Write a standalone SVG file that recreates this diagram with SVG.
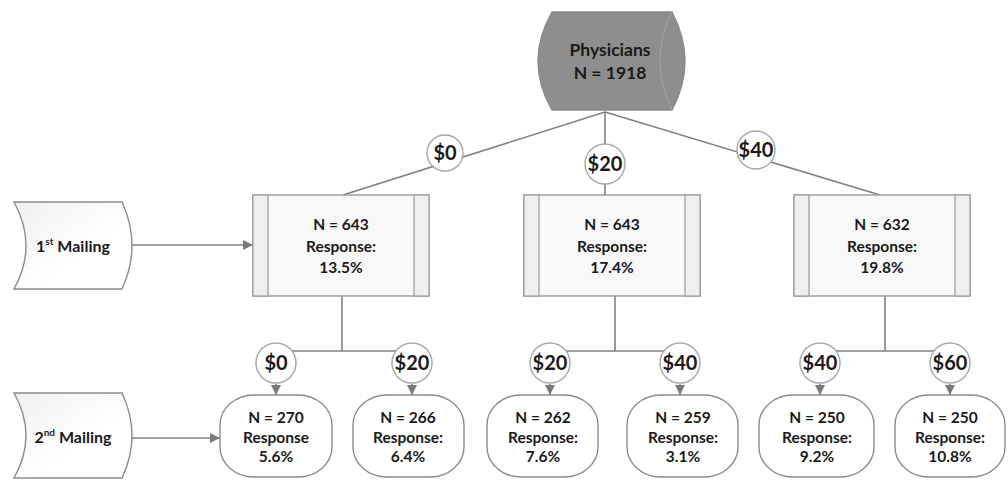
<svg xmlns="http://www.w3.org/2000/svg" width="1008" height="480" viewBox="0 0 1008 480">
<style>
text{font-family:Lato,"Liberation Sans",sans-serif;font-weight:bold;fill:#1a1a1a;text-anchor:middle}
.t{font-size:15.5px}
.c{font-size:20px}
.m{font-size:16px}
.p{font-size:17.5px}
.edge{stroke:#808080;stroke-width:1.6;fill:none}
.box{fill:#f8f8f8;stroke:#9a9a9a;stroke-width:1.4}
.band{fill:#efefef;stroke:#9a9a9a;stroke-width:1.2}
.circ{fill:#fff;stroke:#a8a8a8;stroke-width:1.4}
.node{fill:#fff;stroke:#8c8c8c;stroke-width:1.4}
.mail{fill:url(#g);stroke:#8c8c8c;stroke-width:1.4}
</style>
<defs>
<linearGradient id="g" x1="0" y1="0" x2="1" y2="1">
<stop offset="0" stop-color="#f0f0f0"/>
<stop offset="0.6" stop-color="#ffffff"/>
</linearGradient>
<marker id="ah" viewBox="0 0 10 10" refX="10" refY="5" markerWidth="10" markerHeight="10" markerUnits="userSpaceOnUse" orient="auto">
<path d="M0,0 L10,5 L0,10 Z" fill="#7a7a7a"/>
</marker>
</defs>
<rect width="1008" height="480" fill="#fff"/>

<g id="connectors">
<line class="edge" x1="605" y1="112" x2="343" y2="195"/>
<line class="edge" x1="605" y1="112" x2="605" y2="195"/>
<line class="edge" x1="605" y1="112" x2="880" y2="195"/>
<line class="edge" x1="132" y1="245" x2="253" y2="245" marker-end="url(#ah)"/>
<line class="edge" x1="132" y1="438" x2="220" y2="438" marker-end="url(#ah)"/>
<polyline class="edge" points="342,296 342,351"/>
<line class="edge" x1="276" y1="351" x2="412" y2="351"/>
<polyline class="edge" points="615,296 615,351"/>
<line class="edge" x1="550" y1="351" x2="680" y2="351"/>
<polyline class="edge" points="885,296 885,351"/>
<line class="edge" x1="820" y1="351" x2="950" y2="351"/>
<line class="edge" x1="276" y1="384" x2="276" y2="395" marker-end="url(#ah)"/>
<line class="edge" x1="412" y1="384" x2="412" y2="395" marker-end="url(#ah)"/>
<line class="edge" x1="550" y1="384" x2="550" y2="395" marker-end="url(#ah)"/>
<line class="edge" x1="680" y1="384" x2="680" y2="395" marker-end="url(#ah)"/>
<line class="edge" x1="820" y1="384" x2="820" y2="395" marker-end="url(#ah)"/>
<line class="edge" x1="950" y1="384" x2="950" y2="395" marker-end="url(#ah)"/>
</g>

<g id="physicians">
<path d="M552,12 L672,12 Q698,61 672,110 L552,110 Q524,61 552,12 Z" fill="#8e8e8e" stroke="#8a8a8a" stroke-width="1.4"/>
<path d="M672,12 Q648,61 672,110" fill="none" stroke="#a4a4a4" stroke-width="1"/>
<text class="p" x="610" y="56">Physicians</text>
<text class="p" x="610" y="79">N = 1918</text>
</g>

<g id="c1-0"><circle class="circ" cx="445" cy="153" r="18"/><text class="c" x="445" y="160">$0</text></g>
<g id="c1-20"><circle class="circ" cx="605" cy="164" r="20"/><text class="c" x="605" y="171">$20</text></g>
<g id="c1-40"><circle class="circ" cx="756" cy="150" r="19"/><text class="c" x="756" y="157">$40</text></g>

<g id="mailing1">
<path class="mail" d="M14,202 L122,202 Q142,245.5 122,289 L14,289 Q38,245.5 14,202 Z"/>
<text class="m" x="73" y="252">1<tspan font-size="10" dy="-7">st</tspan><tspan dy="7"> Mailing</tspan></text>
</g>
<g id="mailing2">
<path class="mail" d="M14,393 L122,393 Q142,435.5 122,478 L14,478 Q38,435.5 14,393 Z"/>
<text class="m" x="73" y="443">2<tspan font-size="10" dy="-7">nd</tspan><tspan dy="7"> Mailing</tspan></text>
</g>

<g id="box1">
<rect class="box" x="253" y="195" width="176" height="101"/>
<rect class="band" x="253" y="195" width="15" height="101"/>
<rect class="band" x="414" y="195" width="15" height="101"/>
<text class="t" x="341" y="230">N = 643</text>
<text class="t" x="341" y="252">Response:</text>
<text class="t" x="341" y="273">13.5%</text>
</g>
<g id="box2">
<rect class="box" x="524" y="195" width="176" height="101"/>
<rect class="band" x="524" y="195" width="15" height="101"/>
<rect class="band" x="685" y="195" width="15" height="101"/>
<text class="t" x="612" y="230">N = 643</text>
<text class="t" x="612" y="252">Response:</text>
<text class="t" x="612" y="273">17.4%</text>
</g>
<g id="box3">
<rect class="box" x="794" y="195" width="176" height="101"/>
<rect class="band" x="794" y="195" width="15" height="101"/>
<rect class="band" x="955" y="195" width="15" height="101"/>
<text class="t" x="882" y="230">N = 632</text>
<text class="t" x="882" y="252">Response:</text>
<text class="t" x="882" y="273">19.8%</text>
</g>

<g id="c2-a"><circle class="circ" cx="276" cy="363" r="20"/><text class="c" x="276" y="370">$0</text></g>
<g id="c2-b"><circle class="circ" cx="412" cy="363" r="20"/><text class="c" x="412" y="370">$20</text></g>
<g id="c2-c"><circle class="circ" cx="550" cy="363" r="20"/><text class="c" x="550" y="370">$20</text></g>
<g id="c2-d"><circle class="circ" cx="680" cy="363" r="20"/><text class="c" x="680" y="370">$40</text></g>
<g id="c2-e"><circle class="circ" cx="820" cy="363" r="20"/><text class="c" x="820" y="370">$40</text></g>
<g id="c2-f"><circle class="circ" cx="950" cy="363" r="20"/><text class="c" x="950" y="370">$60</text></g>

<g id="n1"><rect class="node" x="220" y="395" width="112" height="82" rx="34" ry="30"/>
<text class="t" x="276" y="423">N = 270</text><text class="t" x="276" y="443">Response</text><text class="t" x="276" y="462">5.6%</text></g>
<g id="n2"><rect class="node" x="353" y="395" width="111" height="82" rx="34" ry="30"/>
<text class="t" x="408" y="423">N = 266</text><text class="t" x="408" y="443">Response:</text><text class="t" x="408" y="462">6.4%</text></g>
<g id="n3"><rect class="node" x="487" y="395" width="111" height="82" rx="34" ry="30"/>
<text class="t" x="543" y="423">N = 262</text><text class="t" x="543" y="443">Response:</text><text class="t" x="543" y="462">7.6%</text></g>
<g id="n4"><rect class="node" x="627" y="395" width="111" height="82" rx="34" ry="30"/>
<text class="t" x="683" y="423">N = 259</text><text class="t" x="683" y="443">Response:</text><text class="t" x="683" y="462">3.1%</text></g>
<g id="n5"><rect class="node" x="759" y="395" width="115" height="82" rx="34" ry="30"/>
<text class="t" x="817" y="423">N = 250</text><text class="t" x="817" y="443">Response:</text><text class="t" x="817" y="462">9.2%</text></g>
<g id="n6"><rect class="node" x="895" y="395" width="110" height="82" rx="34" ry="30"/>
<text class="t" x="950" y="423">N = 250</text><text class="t" x="950" y="443">Response:</text><text class="t" x="950" y="462">10.8%</text></g>
</svg>
